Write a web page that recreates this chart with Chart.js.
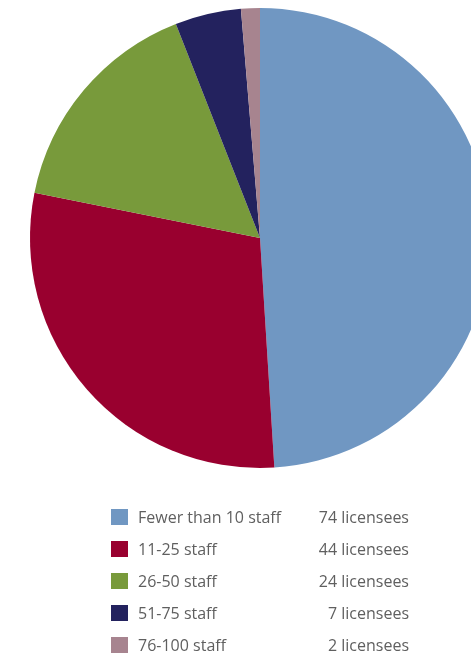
<!DOCTYPE html>
<html>
<head>
<meta charset="utf-8">
<script src="https://cdn.jsdelivr.net/npm/chart.js@4"></script>
<style>
  html, body { margin: 0; padding: 0; background: #fff; width: 471px; height: 661px; overflow: hidden; }
  #wrap { position: absolute; left: 0; top: 0; width: 520px; height: 476px; }
  #legend { position: absolute; left: 0; top: 0; width: 471px; height: 661px; font-family: "Open Sans", sans-serif; font-size: 16px; color: #5f5f5f; }
  .row { position: absolute; left: 111px; width: 298px; height: 20px; }
  .sw { position: absolute; left: 0; top: 1px; width: 17px; height: 16px; }
  .lab { position: absolute; left: 27px; top: -2px; white-space: nowrap; }
  .val { position: absolute; right: 0; top: -2px; white-space: nowrap; }
</style>
</head>
<body>
<div id="wrap"><canvas id="pie"></canvas></div>
<div id="legend"></div>
<script>
// Licensees by staff size band
const categories = ["Fewer than 10 staff", "11-25 staff", "26-50 staff", "51-75 staff", "76-100 staff"];
const licensees = [74, 44, 24, 7, 2];
const valueLabels = ["74 licensees", "44 licensees", "24 licensees", "7 licensees", "2 licensees"];
const sliceColors = ["#7097c2", "#99002f", "#789a3b", "#23225e", "#a7848f"];

new Chart(document.getElementById("pie"), {
  type: "pie",
  data: {
    labels: categories,
    datasets: [{
      data: licensees,
      backgroundColor: sliceColors,
      borderWidth: 0
    }]
  },
  options: {
    responsive: true,
    maintainAspectRatio: false,
    animation: false,
    layout: { padding: 8 },
    plugins: { legend: { display: false }, tooltip: { enabled: false } }
  }
});

// Legend rows below the pie
const legend = document.getElementById("legend");
categories.forEach((name, i) => {
  const row = document.createElement("div");
  row.className = "row";
  row.style.top = (508 + i * 32) + "px";
  row.innerHTML = '<div class="sw" style="background:' + sliceColors[i] + '"></div>' +
    '<div class="lab">' + name + '</div><div class="val">' + valueLabels[i] + '</div>';
  legend.appendChild(row);
});
</script>
</body>
</html>
